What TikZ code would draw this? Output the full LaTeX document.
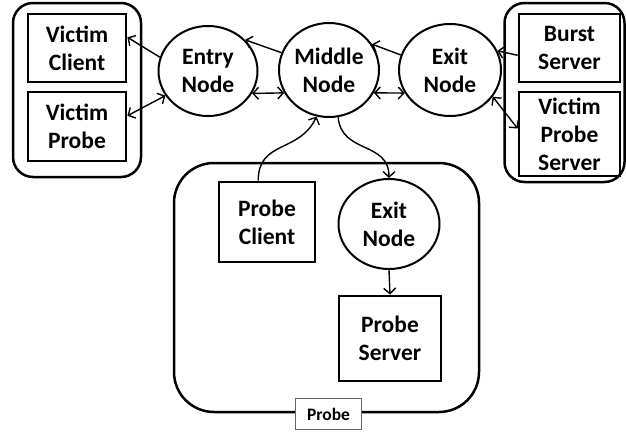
\documentclass[tikz,border=0pt]{standalone}
\usepackage{fontspec}
\setmainfont{Carlito}
\usetikzlibrary{shapes.geometric,arrows.meta}

\begin{document}
\begin{tikzpicture}[x=1pt,y=-1pt,
        box/.style={draw,line width=2.8pt,inner sep=0pt,align=center,
            font=\bfseries\fontsize{23.5}{28}\selectfont},
        relay/.style={draw,ellipse,line width=2pt,inner sep=0pt,align=center,
            font=\bfseries\fontsize{23.5}{28}\selectfont},
        group/.style={draw,line width=2.5pt,inner sep=0pt},
        link/.style={line width=1.4pt,-{Straight Barb[length=5.5pt,width=12pt]}},
        both/.style={line width=1.4pt,{Straight Barb[length=5.5pt,width=12pt]}-{Straight Barb[length=5.5pt,width=12pt]}}]
        \useasboundingbox (0,0) rectangle (626,431);
        % outer groups
        \node[group,rounded corners=20pt,minimum width=128pt,minimum height=174pt] (victims) at (77,90) {};
        \node[group,rounded corners=20pt,minimum width=120pt,minimum height=179pt] (servers) at (564.5,92.5) {};
        \node[group,rounded corners=40pt,minimum width=305pt,minimum height=249pt] (probegroup) at (326.5,287.5) {};
        \node[draw=black!60,line width=0.8pt,fill=white,minimum width=66pt,minimum height=31pt,
            font=\bfseries\fontsize{17.5}{20}\selectfont] (probelabel) at (328.5,414) {Probe};
        % boxes
        \node[box,minimum width=98pt,minimum height=68pt] (vclient) at (77,48) {Victim\\Client};
        \node[box,minimum width=98pt,minimum height=69pt] (vprobe) at (77,126.5) {Victim\\Probe};
        \node[box,minimum width=101pt,minimum height=68pt] (burst) at (569.5,48) {Burst\\Server};
        \node[box,minimum width=101pt,minimum height=84pt] (vpserver) at (569.5,134) {Victim\\Probe\\Server};
        \node[box,minimum width=96pt,minimum height=80pt] (pclient) at (267,222) {Probe\\Client};
        \node[box,minimum width=102pt,minimum height=85pt] (pserver) at (390,338.5) {Probe\\Server};
        % relays
        \node[relay,minimum width=99pt,minimum height=90pt] (entry) at (208,71) {Entry\\Node};
        \node[relay,minimum width=100pt,minimum height=94pt] (middle) at (329,70) {Middle\\Node};
        \node[relay,minimum width=102pt,minimum height=92pt] (exit) at (450,70) {Exit\\Node};
        \node[relay,minimum width=101pt,minimum height=90pt] (exitb) at (389,224) {Exit\\Node};
        % connections
        \draw[link] (entry.164) -- (vclient.12);
        \draw[both] (entry.210) -- (vprobe.12);
        \draw[link] (middle.160) -- (entry.40);
        \draw[both] (entry.-27) -- (middle.207);
        \draw[link] (exit.163) -- (middle.31);
        \draw[both] (middle.-27) -- (exit.207);
        \draw[link] (burst.188) -- (exit.22);
        \draw[both] (exit.-32) -- (vpserver.174);
        \draw[link] (pclient.102) to[out=90,in=-115,looseness=1.2] (middle.255);
        \draw[link] (middle.-79) to[out=-85,in=90,looseness=1.2] (exitb.north);
        \draw[link] (exitb.south) -- (pserver.north);
    \end{tikzpicture}
\end{document}
